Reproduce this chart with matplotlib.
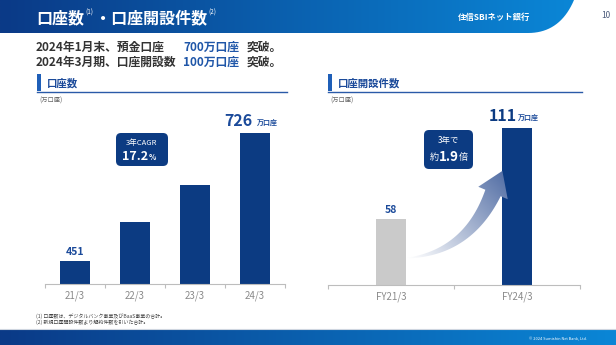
import numpy as np
import matplotlib
matplotlib.use("Agg")
import matplotlib.pyplot as plt
from matplotlib.patches import Polygon, FancyBboxPatch, Rectangle
from matplotlib.colors import LinearSegmentedColormap

plt.rcParams['font.family'] = ['Noto Sans CJK JP', 'DejaVu Sans']

# data
years = ["21/3", "22/3", "23/3", "24/3"]
accounts = [451, 534, 613, 726]          # 口座数 (万口座)
fy_labels = ["FY21/3", "FY24/3"]
openings = [58, 111]                     # 口座開設件数 (万口座)
open_colors = ["#cacaca", "#0c3b82"]

NAVY = "#0c3b82"
BLUE_TXT = "#1b4a9a"
GREY_TXT = "#8a8a8a"

fig = plt.figure(figsize=(6.16, 3.45), dpi=100)
W, H = 616, 345


def px_axes(x0, x1, y_top, y_base):
    return fig.add_axes([x0 / W, (H - y_base) / H, (x1 - x0) / W, (y_base - y_top) / H])


def style_axis(ax):
    for s in ["top", "right", "left"]:
        ax.spines[s].set_visible(False)
    ax.spines["bottom"].set_color("#bdbdbd")
    ax.spines["bottom"].set_linewidth(0.8)
    ax.set_yticks([])
    ax.tick_params(axis="x", length=0, pad=5, labelsize=7, labelcolor=GREY_TXT)
    ax.tick_params(axis="x", which="minor", length=3, color="#bdbdbd", width=0.8)


# left chart: 口座数
ax1 = px_axes(45, 285, 110, 284)
x1 = np.arange(len(years))
ax1.bar(x1, accounts, width=0.5, color=NAVY)
ax1.set_xlim(-0.5, len(years) - 0.5)
ax1.set_ylim(401, 775)
ax1.set_xticks(x1)
ax1.set_xticklabels(years)
ax1.set_xticks(np.arange(len(years) + 1) - 0.5, minor=True)
style_axis(ax1)
ax1.annotate(str(accounts[0]), (x1[0], accounts[0]), xytext=(0, 3), textcoords="offset points",
             ha="center", va="bottom", fontsize=7.5, fontweight="bold", color=BLUE_TXT)
ax1.annotate(str(accounts[-1]), (x1[-1], accounts[-1]), xytext=(-12, 3), textcoords="offset points",
             ha="center", va="bottom", fontsize=11.5, fontweight="bold", color=BLUE_TXT)
ax1.annotate("万口座", (x1[-1], accounts[-1]), xytext=(1.5, 5), textcoords="offset points",
             ha="left", va="bottom", fontsize=5, fontweight="bold", color=BLUE_TXT)

# right chart: 口座開設件数
ax2 = px_axes(328, 580, 110, 285)
x2 = np.arange(len(fy_labels))
ax2.bar(x2, openings, width=0.24, color=open_colors)
ax2.set_xlim(-0.5, len(fy_labels) - 0.5)
ax2.set_ylim(19.6, 121.5)
ax2.set_xticks(x2)
ax2.set_xticklabels(fy_labels)
ax2.set_xticks(np.arange(len(fy_labels) + 1) - 0.5, minor=True)
style_axis(ax2)
ax2.annotate(str(openings[0]), (x2[0], openings[0]), xytext=(0, 3), textcoords="offset points",
             ha="center", va="bottom", fontsize=7.5, fontweight="bold", color=BLUE_TXT)
ax2.annotate(str(openings[1]), (x2[1], openings[1]), xytext=(-10.5, 3), textcoords="offset points",
             ha="center", va="bottom", fontsize=11.5, fontweight="bold", color=NAVY)
ax2.annotate("万口座", (x2[1], openings[1]), xytext=(1, 5), textcoords="offset points",
             ha="left", va="bottom", fontsize=5, fontweight="bold", color=BLUE_TXT)

# overlay in pixel coordinates for page decorations
ov = fig.add_axes([0, 0, 1, 1], zorder=5)
ov.set_xlim(0, W)
ov.set_ylim(H, 0)
ov.axis("off")
ov.patch.set_alpha(0)


def grad_fill(pts, c0, c1, p0, p1, ext):
    poly = Polygon(pts, closed=True, transform=ov.transData, facecolor="none", edgecolor="none")
    ov.add_patch(poly)
    xa, xb, ya, yb = ext
    X, Y = np.meshgrid(np.linspace(xa, xb, 200), np.linspace(ya, yb, 200))
    d = np.array(p1) - np.array(p0)
    t = ((X - p0[0]) * d[0] + (Y - p0[1]) * d[1]) / (d @ d)
    t = np.clip(t, 0, 1)
    cmap = LinearSegmentedColormap.from_list("g", [c0, c1])
    im = ov.imshow(t, cmap=cmap, extent=(xa, xb, yb, ya), origin="upper",
                   aspect="auto", interpolation="bilinear", vmin=0, vmax=1)
    im.set_clip_path(poly)


# header band with rounded right edge
hdr = [(0, 0), (574, 0)]
for tt in np.linspace(0, 1, 20):
    p = (1 - tt) ** 2 * np.array([574, 0]) + 2 * (1 - tt) * tt * np.array([560, 33]) + tt ** 2 * np.array([528, 33])
    hdr.append(tuple(p))
hdr += [(0, 33)]
grad_fill(hdr, "#0b3a87", "#0a86d6", (0, 0), (574, 0), (0, 580, 0, 34))

ov.text(36, 18, "口座数", color="white", fontsize=11.5, fontweight="bold", va="center")
ov.text(85, 13, "(1)", color="white", fontsize=4.5, va="center")
ov.text(95, 18, "・口座開設件数", color="white", fontsize=11.5, fontweight="bold", va="center")
ov.text(208, 13, "(2)", color="white", fontsize=4.5, va="center")
ov.text(494, 17, "住信SBIネット銀行", color="white", fontsize=6, fontweight="bold", ha="center", va="center")
ov.text(606, 16, "10", color="#4a5a7a", fontsize=6, ha="center", va="center")

# subtitle
sub_fs = 8.5
ov.text(36, 47, "2024年1月末、預金口座", color="#333333", fontsize=sub_fs, fontweight="bold", va="center")
ov.text(183, 47, "700万口座", color="#1f56a8", fontsize=sub_fs, fontweight="bold", va="center")
ov.text(247, 47, "突破。", color="#333333", fontsize=sub_fs, fontweight="bold", va="center")
ov.text(36, 62, "2024年3月期、口座開設数", color="#333333", fontsize=sub_fs, fontweight="bold", va="center")
ov.text(183, 62, "100万口座", color="#1f56a8", fontsize=sub_fs, fontweight="bold", va="center")
ov.text(247, 62, "突破。", color="#333333", fontsize=sub_fs, fontweight="bold", va="center")

# section headers
for xs, xe, label in [(37, 287, "口座数"), (328, 582, "口座開設件数")]:
    ov.add_patch(Rectangle((xs, 74), 4, 17, color="#1f5fb8", lw=0))
    ov.plot([xs, xe], [91.5, 91.5], color="#2a5aa8", lw=1)
    ov.text(xs + 10, 83, label, color=BLUE_TXT, fontsize=7.5, fontweight="bold", va="center")
    ov.text(xs + 2, 101, "(万口座)", color="#666666", fontsize=4.5, va="center")

# CAGR box
ov.add_patch(FancyBboxPatch((116, 133), 52, 33, boxstyle="round,pad=0,rounding_size=5",
                            color=NAVY, lw=0))
ov.text(142, 143, "3年CAGR", color="white", fontsize=5.5, ha="center", va="center")
ov.text(148, 157, "17.2", color="white", fontsize=9, fontweight="bold", ha="right", va="center")
ov.text(148.5, 158, "%", color="white", fontsize=5.5, fontweight="bold", ha="left", va="center")

# curved arrow
P0, P1, P2 = np.array([408, 258]), np.array([468, 252]), np.array([493, 193])
ts = np.linspace(0, 1, 40)
cen = np.array([(1 - t) ** 2 * P0 + 2 * (1 - t) * t * P1 + t ** 2 * P2 for t in ts])
tan = np.array([2 * (1 - t) * (P1 - P0) + 2 * t * (P2 - P1) for t in ts])
tan = tan / np.linalg.norm(tan, axis=1)[:, None]
nrm = np.column_stack([-tan[:, 1], tan[:, 0]])
hw = 0.3 + 8 * ts
left = cen + nrm * hw[:, None]
right = cen - nrm * hw[:, None]
d = tan[-1]
n = nrm[-1]
tip = P2 + d * 24
arrow = list(map(tuple, left)) + [tuple(P2 + n * 16), tuple(tip), tuple(P2 - n * 16)] + list(map(tuple, right[::-1]))
grad_fill(arrow, "#ffffff", "#5570a6", tuple(P0), tuple(tip), (400, 525, 160, 265))

# 1.9x box
ov.add_patch(FancyBboxPatch((424, 130), 49, 39, boxstyle="round,pad=0,rounding_size=5",
                            color=NAVY, lw=0))
ov.text(448.5, 141, "3年で", color="white", fontsize=6, ha="center", va="center")
ov.text(449, 157, "1.9", color="white", fontsize=9.5, fontweight="bold", ha="center", va="center")
ov.text(439, 157.5, "約", color="white", fontsize=6.5, ha="right", va="center")
ov.text(459, 157.5, "倍", color="white", fontsize=6.5, ha="left", va="center")

# footnotes
ov.text(36, 316, "(1) 口座数は、デジタルバンク事業及びBaaS事業の合計。", color="#444444", fontsize=3.6, va="center")
ov.text(36, 322, "(2) 新規口座開設件数より解約件数を引いた合計。", color="#444444", fontsize=3.6, va="center")

# footer band
ov.plot([0, W], [328.5, 328.5], color="#cfd6e0", lw=0.8)
grad_fill([(0, 329.5), (W, 329.5), (W, H), (0, H)], "#0b3a87", "#0a86d6", (0, 0), (W, 0), (0, W, 329, H))
ov.text(587, 339, "© 2024 Sumishin Net Bank, Ltd.", color="white", fontsize=2.8, ha="right", va="center")

ov.set_xlim(0, W)
ov.set_ylim(H, 0)

fig.savefig("out.png", dpi=100)
